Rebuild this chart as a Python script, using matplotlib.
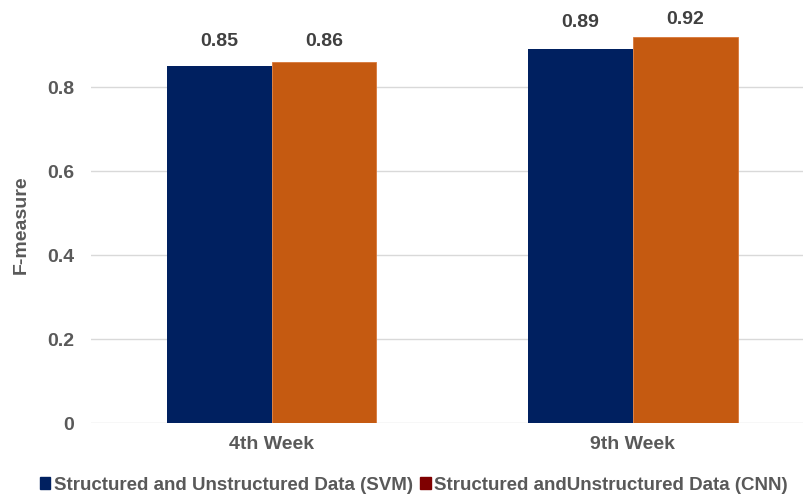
import matplotlib
matplotlib.use("Agg")
import matplotlib.pyplot as plt
import numpy as np
from matplotlib.patches import Patch

categories = ["4th Week", "9th Week"]
svm_values = [0.85, 0.89]
cnn_values = [0.86, 0.92]
series_names = ["Structured and Unstructured Data (SVM)", "Structured andUnstructured Data (CNN)"]
y_ticks = [0, 0.2, 0.4, 0.6, 0.8]
y_tick_labels = ["0", "0.2", "0.4", "0.6", "0.8"]

plt.rcParams['font.family'] = ['Liberation Sans', 'DejaVu Sans']
TXT = "#595959"
NAVY = "#002060"
ORANGE = "#C55A11"
DARKRED = "#7F0000"

fig = plt.figure(figsize=(8.04, 4.98), dpi=100)
ax = fig.add_axes([91/804, 75/498, (813.5-91)/804, 420/498])

x = np.arange(len(categories))
w = 0.29
b1 = ax.bar(x - w/2, svm_values, w, color=NAVY, zorder=3)
b2 = ax.bar(x + w/2, cnn_values, w, color=ORANGE, edgecolor="#D8783A", linewidth=0.6, zorder=3)

# label offsets (points above bar top) per series / category
label_offsets = {0: [17.3, 19.4], 1: [14.4, 12.2]}
for si, (bars, vals) in enumerate(((b1, svm_values), (b2, cnn_values))):
    for ci, (r, v) in enumerate(zip(bars, vals)):
        ax.annotate(f"{v:.2f}", (r.get_x() + r.get_width()/2, v),
                    xytext=(0, label_offsets[si][ci]),
                    textcoords="offset points", ha="center", va="center",
                    fontsize=14, fontweight="bold", color="#404040")

ax.set_xlim(-0.5, 1.5)
ax.set_ylim(0, 1.0)
ax.set_yticks(y_ticks)
ax.set_yticklabels(y_tick_labels)
ax.set_xticks(x)
ax.set_xticklabels(categories)
ax.yaxis.grid(True, color="#D9D9D9", linewidth=1.0, zorder=0)
ax.set_axisbelow(True)
for s in ax.spines.values():
    s.set_visible(False)
ax.tick_params(axis="both", length=0, colors=TXT, labelsize=14)
ax.tick_params(axis="y", pad=12)
ax.tick_params(axis="x", pad=9)
for lbl in ax.get_xticklabels() + ax.get_yticklabels():
    lbl.set_fontweight("bold")
fig.text(21/804, 1 - 225/498, "F-measure", rotation=90, ha="center", va="center",
         fontsize=14, fontweight="bold", color=TXT)

handles = [Patch(color=NAVY), Patch(color=DARKRED)]
leg = fig.legend(handles, series_names, loc="center", bbox_to_anchor=(414/804, 1 - 485/498),
                 ncol=2, frameon=False, handlelength=0.55, handleheight=0.55,
                 handletextpad=0.2, columnspacing=0.4,
                 prop={"weight": "bold", "size": 13.5})
for t in leg.get_texts():
    t.set_color(TXT)

fig.savefig("out.png", dpi=100)
